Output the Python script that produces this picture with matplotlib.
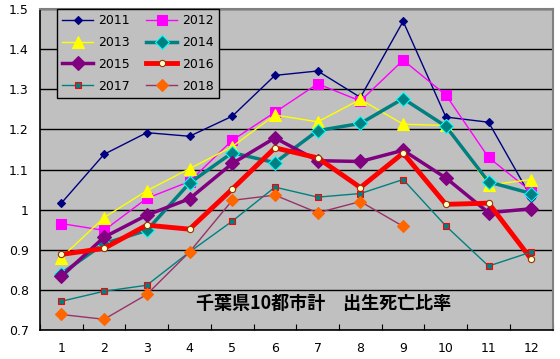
import matplotlib
matplotlib.use("Agg")
import matplotlib.pyplot as plt
from matplotlib.ticker import FuncFormatter

months = [1, 2, 3, 4, 5, 6, 7, 8, 9, 10, 11, 12]

y2011 = [1.016, 1.138, 1.192, 1.183, 1.233, 1.335, 1.346, 1.280, 1.470, 1.231, 1.218, 1.030]
y2012 = [0.965, 0.948, 1.028, 1.070, 1.173, 1.243, 1.314, 1.271, 1.373, 1.286, 1.130, 1.045]
y2013 = [0.880, 0.980, 1.047, 1.102, 1.157, 1.236, 1.219, 1.275, 1.213, 1.210, 1.061, 1.075]
y2014 = [0.840, 0.915, 0.948, 1.066, 1.142, 1.117, 1.197, 1.215, 1.277, 1.208, 1.069, 1.040]
y2015 = [0.833, 0.931, 0.986, 1.027, 1.115, 1.179, 1.122, 1.120, 1.148, 1.079, 0.992, 1.002]
y2016 = [0.888, 0.903, 0.961, 0.951, 1.051, 1.154, 1.129, 1.055, 1.141, 1.013, 1.016, 0.876]
y2017 = [0.771, 0.796, 0.811, 0.894, 0.971, 1.056, 1.031, 1.040, 1.075, 0.959, 0.859, 0.894]
y2018 = [0.738, 0.726, 0.788, 0.894, 1.023, 1.036, 0.992, 1.020, 0.958]

title = "千葉県10都市計　出生死亡比率"

fig = plt.figure(figsize=(5.6, 3.59), dpi=100)
ax = fig.add_axes([0.0714, 0.0816, 0.9155, 0.8925])
ax.set_facecolor("#C0C0C0")

# series styles: (label, values, line colour, lw, marker, size, face, edge)
series = [
    ("2011", y2011, "#000080", 1.0, "D", 4, "#000080", "#000080"),
    ("2012", y2012, "#FF00FF", 1.0, "s", 7, "#FF00FF", "#FF00FF"),
    ("2013", y2013, "#FFFF00", 1.0, "^", 8, "#FFFF00", "#FFFF00"),
    ("2014", y2014, "#008080", 2.5, "D", 7, "#008080", "#00FFFF"),
    ("2015", y2015, "#800080", 2.5, "D", 7, "#800080", "#800080"),
    ("2016", y2016, "#FF0000", 3.5, "o", 4.5, "#FFFFCC", "#993300"),
    ("2017", y2017, "#008080", 1.0, "s", 5, "#008080", "#FF0000"),
    ("2018", y2018, "#993366", 1.0, "D", 6, "#FF6600", "#FF6600"),
]

handles = []
for label, vals, col, lw, mk, ms, fc, ec in series:
    h, = ax.plot(months[:len(vals)], vals, color=col, lw=lw, marker=mk, ms=ms,
                 mfc=fc, mec=ec, mew=0.8, label=label, zorder=3)
    handles.append(h)

ax.set_xlim(0.5, 12.5)
ax.set_ylim(0.7, 1.5)
ax.set_yticks([0.7, 0.8, 0.9, 1.0, 1.1, 1.2, 1.3, 1.4, 1.5])
ax.yaxis.set_major_formatter(FuncFormatter(lambda v, p: f"{v:g}"))
ax.set_xticks(months)
ax.set_xticks([m + 0.5 for m in range(0, 13)], minor=True)
ax.tick_params(axis="x", which="major", length=0, pad=9, labelsize=9)
ax.tick_params(axis="x", which="minor", direction="in", length=4, width=0.8)
ax.tick_params(axis="y", which="major", length=0, pad=8, labelsize=9)
ax.grid(axis="y", color="black", lw=1.0, zorder=1)

for side in ["left", "bottom"]:
    ax.spines[side].set_color("black")
    ax.spines[side].set_linewidth(1.2)
for side in ["top", "right"]:
    ax.spines[side].set_color("#808080")
    ax.spines[side].set_linewidth(1.5)

# legend fills column-wise, so reorder to get 2011 2012 / 2013 2014 ...
order = [0, 2, 4, 6, 1, 3, 5, 7]
leg = ax.legend([handles[i] for i in order], [series[i][0] for i in order],
                ncol=2, loc="upper left", bbox_to_anchor=(0.033, 1.0),
                borderaxespad=0, frameon=True, fancybox=False,
                facecolor="#C0C0C0", edgecolor="black", framealpha=1,
                fontsize=9, handlelength=2.5, handletextpad=0.4,
                columnspacing=1.3, labelspacing=0.7, borderpad=0.4)
leg.get_frame().set_linewidth(1.0)

ax.text(0.554, 0.083, title, transform=ax.transAxes, ha="center", va="center",
        fontsize=13, fontweight="bold",
        family=["Noto Sans CJK JP", "DejaVu Sans"], zorder=5)

fig.savefig("out.png", dpi=100)
